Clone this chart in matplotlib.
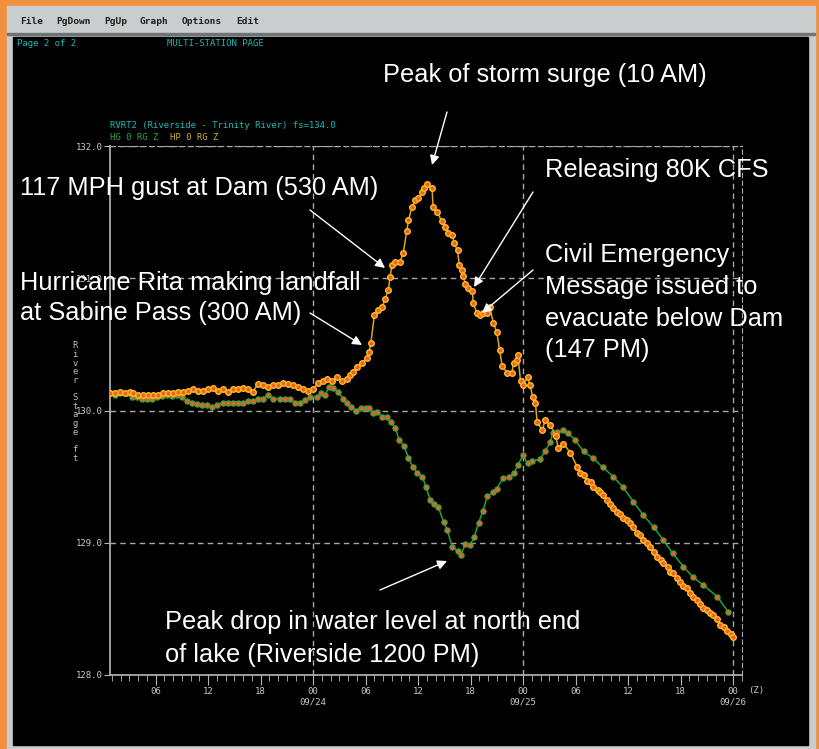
import matplotlib
matplotlib.use("Agg")
import matplotlib.pyplot as plt
from matplotlib.patches import Rectangle
from matplotlib.ticker import FixedLocator, MultipleLocator

# hours relative to 09/24 00Z, stage in ft
hp_hours = [-23.2, -22.6, -22.1, -21.5, -20.9, -20.6, -20.0, -19.4, -18.9, -18.3,
            -17.7, -17.1, -16.6, -16.0, -15.4, -14.9, -14.3, -13.7, -13.1, -12.6,
            -12.0, -11.4, -10.9, -10.3, -9.7, -9.1, -8.6, -8.0, -7.4, -6.9,
            -6.3, -5.7, -5.1, -4.6, -4.0, -3.4, -2.9, -2.3, -1.7, -1.1,
            -0.6, 0.0, 0.6, 1.1, 1.6, 2.2, 2.7, 3.3, 3.9, 4.2,
            4.6, 5.0, 5.6, 6.2, 6.4, 6.6, 7.0, 7.4, 7.9, 8.2,
            8.6, 8.8, 9.0, 9.4, 9.9, 10.3, 10.7, 10.9, 11.3, 11.7,
            12.0, 12.5, 12.7, 13.0, 13.6, 13.7, 14.2, 14.7, 15.1, 15.4,
            15.9, 16.1, 16.5, 16.7, 17.0, 17.1, 17.4, 17.7, 18.2, 18.3,
            18.7, 19.1, 19.4, 19.9, 20.2, 20.6, 21.0, 21.3, 21.6, 22.2,
            22.7, 22.9, 23.3, 23.4, 23.7, 24.0, 24.5, 24.8, 25.1, 25.4,
            25.6, 26.2, 26.5, 27.1, 27.7, 28.0, 28.6, 29.4, 30.2, 30.5,
            30.9, 31.3, 31.7, 32.0, 32.5, 32.8, 33.1, 33.6, 33.9, 34.3,
            34.7, 35.1, 35.4, 35.9, 36.2, 36.6, 37.0, 37.4, 37.7, 38.2,
            38.5, 38.9, 39.3, 39.7, 40.0, 40.5, 40.8, 41.1, 41.6, 41.9,
            42.3, 42.7, 43.1, 43.4, 43.9, 44.2, 44.6, 45.0, 45.4, 45.7,
            46.2, 46.5, 46.9, 47.3, 47.7, 48.0]
hp_stage = [130.13, 130.13, 130.14, 130.13, 130.14, 130.13, 130.12, 130.12, 130.12, 130.12,
            130.12, 130.13, 130.13, 130.13, 130.14, 130.14, 130.15, 130.16, 130.15, 130.15,
            130.16, 130.17, 130.15, 130.16, 130.14, 130.16, 130.16, 130.17, 130.16, 130.14,
            130.20, 130.19, 130.18, 130.19, 130.19, 130.21, 130.20, 130.19, 130.18, 130.16,
            130.15, 130.16, 130.21, 130.22, 130.24, 130.22, 130.25, 130.22, 130.24, 130.27,
            130.29, 130.33, 130.36, 130.40, 130.44, 130.51, 130.72, 130.76, 130.78, 130.84,
            130.91, 131.01, 131.10, 131.12, 131.12, 131.19, 131.36, 131.44, 131.54, 131.59,
            131.61, 131.65, 131.68, 131.71, 131.68, 131.54, 131.50, 131.43, 131.39, 131.34,
            131.33, 131.27, 131.21, 131.10, 131.06, 131.02, 130.96, 130.93, 130.90, 130.81,
            130.74, 130.72, 130.74, 130.74, 130.78, 130.66, 130.59, 130.46, 130.34, 130.28,
            130.28, 130.36, 130.38, 130.42, 130.22, 130.19, 130.25, 130.19, 130.10, 130.06,
            129.91, 129.85, 129.93, 129.89, 129.81, 129.72, 129.75, 129.68, 129.57, 129.53,
            129.51, 129.47, 129.46, 129.42, 129.40, 129.38, 129.36, 129.32, 129.29, 129.26,
            129.23, 129.22, 129.19, 129.17, 129.15, 129.12, 129.07, 129.06, 129.02, 129.00,
            128.97, 128.93, 128.89, 128.87, 128.85, 128.82, 128.78, 128.77, 128.73, 128.70,
            128.67, 128.66, 128.62, 128.59, 128.57, 128.54, 128.51, 128.49, 128.47, 128.45,
            128.42, 128.38, 128.36, 128.33, 128.31, 128.29]

hg_hours = [-23.2, -22.6, -22.1, -21.3, -20.7, -20.1, -19.5, -19.0, -18.4, -17.8,
            -17.3, -16.7, -16.1, -15.5, -15.0, -14.4, -13.8, -13.3, -12.7, -12.1,
            -11.5, -11.0, -10.3, -9.7, -9.1, -8.6, -8.0, -7.4, -6.9, -6.3,
            -5.7, -5.1, -4.6, -3.8, -3.2, -2.6, -2.1, -1.5, -0.9, -0.3,
            0.5, 0.9, 1.4, 1.8, 2.3, 2.9, 3.4, 3.9, 4.3, 4.9,
            5.5, 6.1, 6.4, 6.9, 7.3, 7.9, 8.5, 8.9, 9.4, 9.8,
            10.4, 10.9, 11.4, 11.9, 12.5, 12.9, 13.4, 13.8, 14.3, 14.9,
            15.3, 15.9, 16.5, 16.9, 17.4, 17.9, 18.4, 18.9, 19.4, 19.9,
            20.5, 21.0, 21.7, 22.4, 23.0, 23.4, 24.0, 24.5, 25.0, 25.9,
            26.5, 27.1, 27.4, 27.9, 28.6, 29.1, 29.9, 30.9, 32.0, 33.1,
            34.3, 35.4, 36.6, 37.7, 38.9, 40.0, 41.1, 42.3, 43.4, 44.6,
            46.2, 47.4]
hg_stage = [130.13, 130.12, 130.13, 130.13, 130.10, 130.10, 130.09, 130.09, 130.09, 130.10,
            130.11, 130.12, 130.11, 130.12, 130.10, 130.07, 130.06, 130.05, 130.04, 130.04,
            130.03, 130.04, 130.06, 130.06, 130.06, 130.06, 130.06, 130.07, 130.07, 130.09,
            130.09, 130.12, 130.09, 130.09, 130.09, 130.09, 130.06, 130.06, 130.08, 130.10,
            130.10, 130.13, 130.12, 130.18, 130.17, 130.14, 130.09, 130.06, 130.03, 130.00,
            130.02, 130.02, 130.02, 129.98, 129.99, 129.95, 129.95, 129.91, 129.87, 129.78,
            129.73, 129.64, 129.57, 129.53, 129.50, 129.42, 129.32, 129.29, 129.27, 129.16,
            129.10, 128.97, 128.94, 128.91, 128.99, 128.98, 129.04, 129.15, 129.24, 129.35,
            129.38, 129.41, 129.49, 129.50, 129.53, 129.59, 129.66, 129.60, 129.62, 129.63,
            129.69, 129.76, 129.83, 129.84, 129.85, 129.83, 129.78, 129.69, 129.64, 129.57,
            129.50, 129.42, 129.31, 129.21, 129.12, 129.02, 128.92, 128.82, 128.74, 128.68,
            128.59, 128.48]

x_ticks = [-18, -12, -6, 0, 6, 12, 18, 24, 30, 36, 42, 48]
x_labels = ['06', '12', '18', '00\n09/24', '06', '12', '18', '00\n09/25',
            '06', '12', '18', '00\n09/26']
y_ticks = [128.0, 129.0, 130.0, 131.0, 132.0]
day_lines = [0, 24, 48]

W, H = 820, 749


def fx(px):
    return px / W


def fy(py):
    return 1 - py / H


fig = plt.figure(figsize=(W / 100, H / 100), dpi=100)
fig.patch.set_facecolor('#F2913D')

# window frame (drawn behind the axes)
frame = [((7, 6), (815, 749), '#C9CDCD'),
         ((7, 33), (815, 35), '#6E7373'),
         ((13, 37), (808, 745), 'black')]
for (x0, y0), (x1, y1), col in frame:
    fig.patches.append(Rectangle((fx(x0), fy(y1)), fx(x1) - fx(x0), fy(y0) - fy(y1),
                                 transform=fig.transFigure, color=col, zorder=-10))

mono = 'DejaVu Sans Mono'
menu = [('File', 20), ('PgDown', 56), ('PgUp', 104), ('Graph', 140), ('Options', 182), ('Edit', 236)]
for name, px in menu:
    fig.text(fx(px), fy(22), name, family=mono, fontsize=6.8, weight='bold',
             color='#1E1E1E', va='center')

cyan = '#1FB8B8'
fig.text(fx(17), fy(44), 'Page 2 of 2', family=mono, fontsize=6.5, color=cyan, va='center')
fig.text(fx(167), fy(44), 'MULTI-STATION PAGE', family=mono, fontsize=6.5, color=cyan, va='center')
fig.text(fx(110), fy(125), 'RVRT2 (Riverside - Trinity River) fs=134.0', family=mono,
         fontsize=6.5, color=cyan, va='center')
fig.text(fx(110), fy(137), 'HG 0 RG Z', family=mono, fontsize=6.5, color='#22A83C', va='center')
fig.text(fx(170), fy(137), 'HP 0 RG Z', family=mono, fontsize=6.5, color='#C8B22A', va='center')

ax = fig.add_axes([fx(110), fy(675), fx(742) - fx(110), fy(146) - fy(675)])
ax.set_facecolor('black')
ax.set_xlim(-23.2, 49.0)
ax.set_ylim(128, 132)

grid_kw = dict(color='#A8A8A8', lw=1, ls=(0, (4, 3)), zorder=1)
for d in day_lines:
    ax.axvline(d, **grid_kw)
for v in y_ticks[1:]:
    ax.axhline(v, **grid_kw)

ax.plot(hg_hours, hg_stage, color='#24A33E', lw=1.1, marker='o', markersize=3.8,
        markerfacecolor='#E8602A', markeredgecolor='#2AA844', markeredgewidth=0.8, zorder=3)
ax.plot(hp_hours, hp_stage, color='#D8A814', lw=1.1, marker='o', markersize=4.0,
        markerfacecolor='#F0602A', markeredgecolor='#FFBE1E', markeredgewidth=1.0, zorder=4)

axis_col = '#B8B8B8'
for side in ['left', 'bottom']:
    ax.spines[side].set_color(axis_col)
    ax.spines[side].set_linewidth(1.2)
for side in ['top', 'right']:
    ax.spines[side].set_color('#A8A8A8')
    ax.spines[side].set_linestyle((0, (4, 3)))

ax.xaxis.set_major_locator(FixedLocator(x_ticks))
ax.xaxis.set_minor_locator(MultipleLocator(1))
ax.set_xticklabels(x_labels)
ax.set_yticks(y_ticks)
ax.set_yticklabels(['%.1f' % v for v in y_ticks])
ax.tick_params(axis='x', which='major', length=7, color=axis_col, labelcolor='#C8C8C8',
               labelsize=6.5, pad=2)
ax.tick_params(axis='x', which='minor', length=4, color=axis_col)
ax.tick_params(axis='y', length=4, color=axis_col, labelcolor='#C8C8C8', labelsize=6.5, pad=1)
for lab in ax.get_xticklabels() + ax.get_yticklabels():
    lab.set_family(mono)
    lab.set_linespacing(1.1)

fig.text(fx(748), fy(690), '(Z)', family=mono, fontsize=6.5, color='#C8C8C8', va='center')
fig.text(fx(75), fy(402), '\n'.join('River Stage ft'), family=mono, fontsize=6.4,
         color='#BEBEBE', ha='center', va='center', linespacing=0.95)

# annotations
notes = [
    ('Peak of storm surge (10 AM)', 383, 75),
    ('117 MPH gust at Dam (530 AM)', 20, 188),
    ('Releasing 80K CFS', 545, 170),
    ('Hurricane Rita making landfall', 20, 283),
    ('at Sabine Pass (300 AM)', 20, 313),
    ('Civil Emergency', 545, 255),
    ('Message issued to', 545, 287),
    ('evacuate below Dam', 545, 319),
    ('(147 PM)', 545, 350),
    ('Peak drop in water level at north end', 165, 622),
    ('of lake (Riverside 1200 PM)', 165, 655),
]
for txt, px, py in notes:
    fig.text(fx(px), fy(py), txt, family='Liberation Sans', fontsize=18.3,
             color='white', va='center', zorder=10)

arrows = [
    ((447, 112), (432, 165)),
    ((310, 210), (385, 268)),
    ((533, 192), (474, 287)),
    ((310, 313), (362, 345)),
    ((533, 270), (482, 313)),
    ((380, 590), (447, 561)),
]
for (x0, y0), (x1, y1) in arrows:
    ax.annotate('', xy=(x1, H - y1), xytext=(x0, H - y0),
                xycoords='figure pixels', textcoords='figure pixels', annotation_clip=False,
                arrowprops=dict(arrowstyle='-|>', color='white', lw=1.0,
                                mutation_scale=14, shrinkA=0, shrinkB=0), zorder=10)

fig.savefig('out.png', dpi=100, facecolor=fig.get_facecolor())
